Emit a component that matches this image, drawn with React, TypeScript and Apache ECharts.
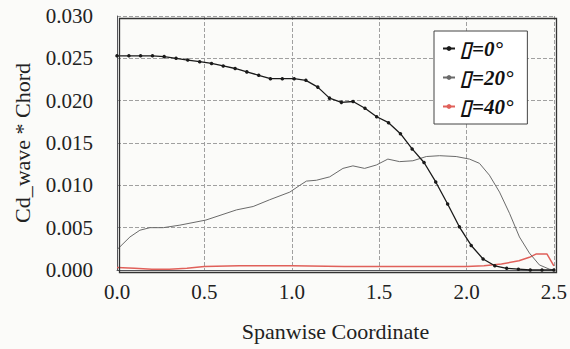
import React, { useEffect, useRef } from "react";
import * as echarts from "echarts";

const blackX = [0, 0.068, 0.135, 0.203, 0.27, 0.338, 0.405, 0.473, 0.541, 0.608, 0.676, 0.743, 0.811, 0.878, 0.946, 1.014, 1.081, 1.149, 1.216, 1.284, 1.351, 1.419, 1.486, 1.554, 1.622, 1.689, 1.757, 1.824, 1.892, 1.959, 2.027, 2.095, 2.162, 2.23, 2.297, 2.365, 2.432, 2.5];
const blackY = [0.0253, 0.0253, 0.0253, 0.0253, 0.0252, 0.025, 0.0248, 0.0246, 0.0244, 0.0241, 0.0238, 0.0234, 0.023, 0.0226, 0.0226, 0.0226, 0.0224, 0.0216, 0.0203, 0.0198, 0.0199, 0.0191, 0.0181, 0.0174, 0.0161, 0.0143, 0.0127, 0.0104, 0.0078, 0.0051, 0.0029, 0.0013, 0.0005, 0.0002, 0.0001, 0.0, 0.0, 0.0];

const grayX = [0, 0.074, 0.131, 0.189, 0.265, 0.36, 0.509, 0.684, 0.779, 0.874, 0.989, 1.046, 1.084, 1.141, 1.217, 1.293, 1.35, 1.417, 1.484, 1.55, 1.617, 1.693, 1.77, 1.846, 1.941, 2.017, 2.074, 2.131, 2.189, 2.246, 2.303, 2.36, 2.417, 2.474, 2.5];
const grayY = [0.0024, 0.0039, 0.0047, 0.005, 0.005, 0.0053, 0.0059, 0.0071, 0.0075, 0.0083, 0.0092, 0.01, 0.0105, 0.0106, 0.011, 0.012, 0.0123, 0.012, 0.0124, 0.0131, 0.0128, 0.0129, 0.0134, 0.0135, 0.0134, 0.0131, 0.0126, 0.0112, 0.0092, 0.0067, 0.0039, 0.002, 0.0006, 0.0001, 0.0];

const redX = [0, 0.1, 0.2, 0.3, 0.4, 0.5, 0.7, 1.0, 1.3, 1.6, 1.9, 2.0, 2.1, 2.2, 2.3, 2.36, 2.4, 2.46, 2.5];
const redY = [0.0003, 0.0002, 0.0001, 0.0001, 0.0002, 0.0004, 0.0005, 0.0005, 0.0004, 0.0004, 0.0004, 0.0004, 0.0005, 0.0007, 0.0011, 0.0015, 0.0019, 0.0019, 0.0005];

const seriesNames = ["▯=0°", "▯=20°", "▯=40°"];
const xTicks = { min: 0, max: 2.5, interval: 0.5 };
const yTicks = { min: 0, max: 0.03, interval: 0.005 };

const pairs = (xs: number[], ys: number[]) => xs.map((x, i) => [x, ys[i]]);

export default function App() {
  const ref = useRef<HTMLDivElement>(null);
  useEffect(() => {
    if (!ref.current) return;
    const chart = echarts.init(ref.current, undefined, { renderer: "svg" });
    const serif = "Liberation Serif";
    const mkGrid = () => ({ show: true, lineStyle: { color: "#a0a0a0", type: "dashed", width: 1 } });
    chart.setOption({
      animation: false,
      backgroundColor: "#fbfbf9",
      grid: { left: 117, right: 16, top: 16, bottom: 79 },
      graphic: [
        {
          type: "rect",
          left: 117,
          top: 16,
          shape: { width: 437, height: 254 },
          style: { fill: "none", stroke: "#333", lineWidth: 1.3 },
          silent: true,
          z: 10,
        },
      ],
      legend: {
        orient: "vertical",
        left: 434,
        top: 31,
        padding: [7, 14, 7, 8],
        itemGap: 8,
        itemWidth: 12,
        itemHeight: 6,
        backgroundColor: "#fff",
        borderColor: "#444",
        borderWidth: 1,
        textStyle: { fontFamily: serif, fontSize: 21, fontWeight: "bold", fontStyle: "italic", color: "#111" },
        data: seriesNames,
      },
      xAxis: {
        type: "value",
        min: xTicks.min,
        max: xTicks.max,
        interval: xTicks.interval,
        name: "Spanwise Coordinate",
        nameLocation: "middle",
        nameGap: 50,
        nameTextStyle: { fontFamily: serif, fontSize: 22, color: "#222" },
        axisTick: { show: false },
        axisLabel: { fontFamily: serif, fontSize: 21, color: "#222", margin: 11, formatter: (v: number) => v.toFixed(1) },
        splitLine: mkGrid(),
      },
      yAxis: {
        type: "value",
        min: yTicks.min,
        max: yTicks.max,
        interval: yTicks.interval,
        name: "Cd_wave * Chord",
        nameLocation: "middle",
        nameGap: 84,
        nameTextStyle: { fontFamily: serif, fontSize: 22, color: "#222" },
        axisTick: { show: false },
        axisLabel: { fontFamily: serif, fontSize: 21, color: "#222", margin: 24, formatter: (v: number) => v.toFixed(3) },
        splitLine: mkGrid(),
      },
      series: [
        {
          name: seriesNames[0],
          type: "line",
          data: pairs(blackX, blackY),
          symbol: "circle",
          symbolSize: 3.5,
          itemStyle: { color: "#1a1a1a" },
          lineStyle: { color: "#1a1a1a", width: 1.3 },
          z: 4,
        },
        {
          name: seriesNames[1],
          type: "line",
          data: pairs(grayX, grayY),
          symbol: "none",
          itemStyle: { color: "#6a6a6a" },
          lineStyle: { color: "#6a6a6a", width: 1 },
          z: 3,
        },
        {
          name: seriesNames[2],
          type: "line",
          data: pairs(redX, redY),
          symbol: "none",
          itemStyle: { color: "#e0605a" },
          lineStyle: { color: "#e0605a", width: 1.5 },
          z: 2,
        },
      ],
    });
    return () => chart.dispose();
  }, []);
  return <div ref={ref} style={{ position: "absolute", left: 0, top: 0, width: 570, height: 349 }} />;
}
